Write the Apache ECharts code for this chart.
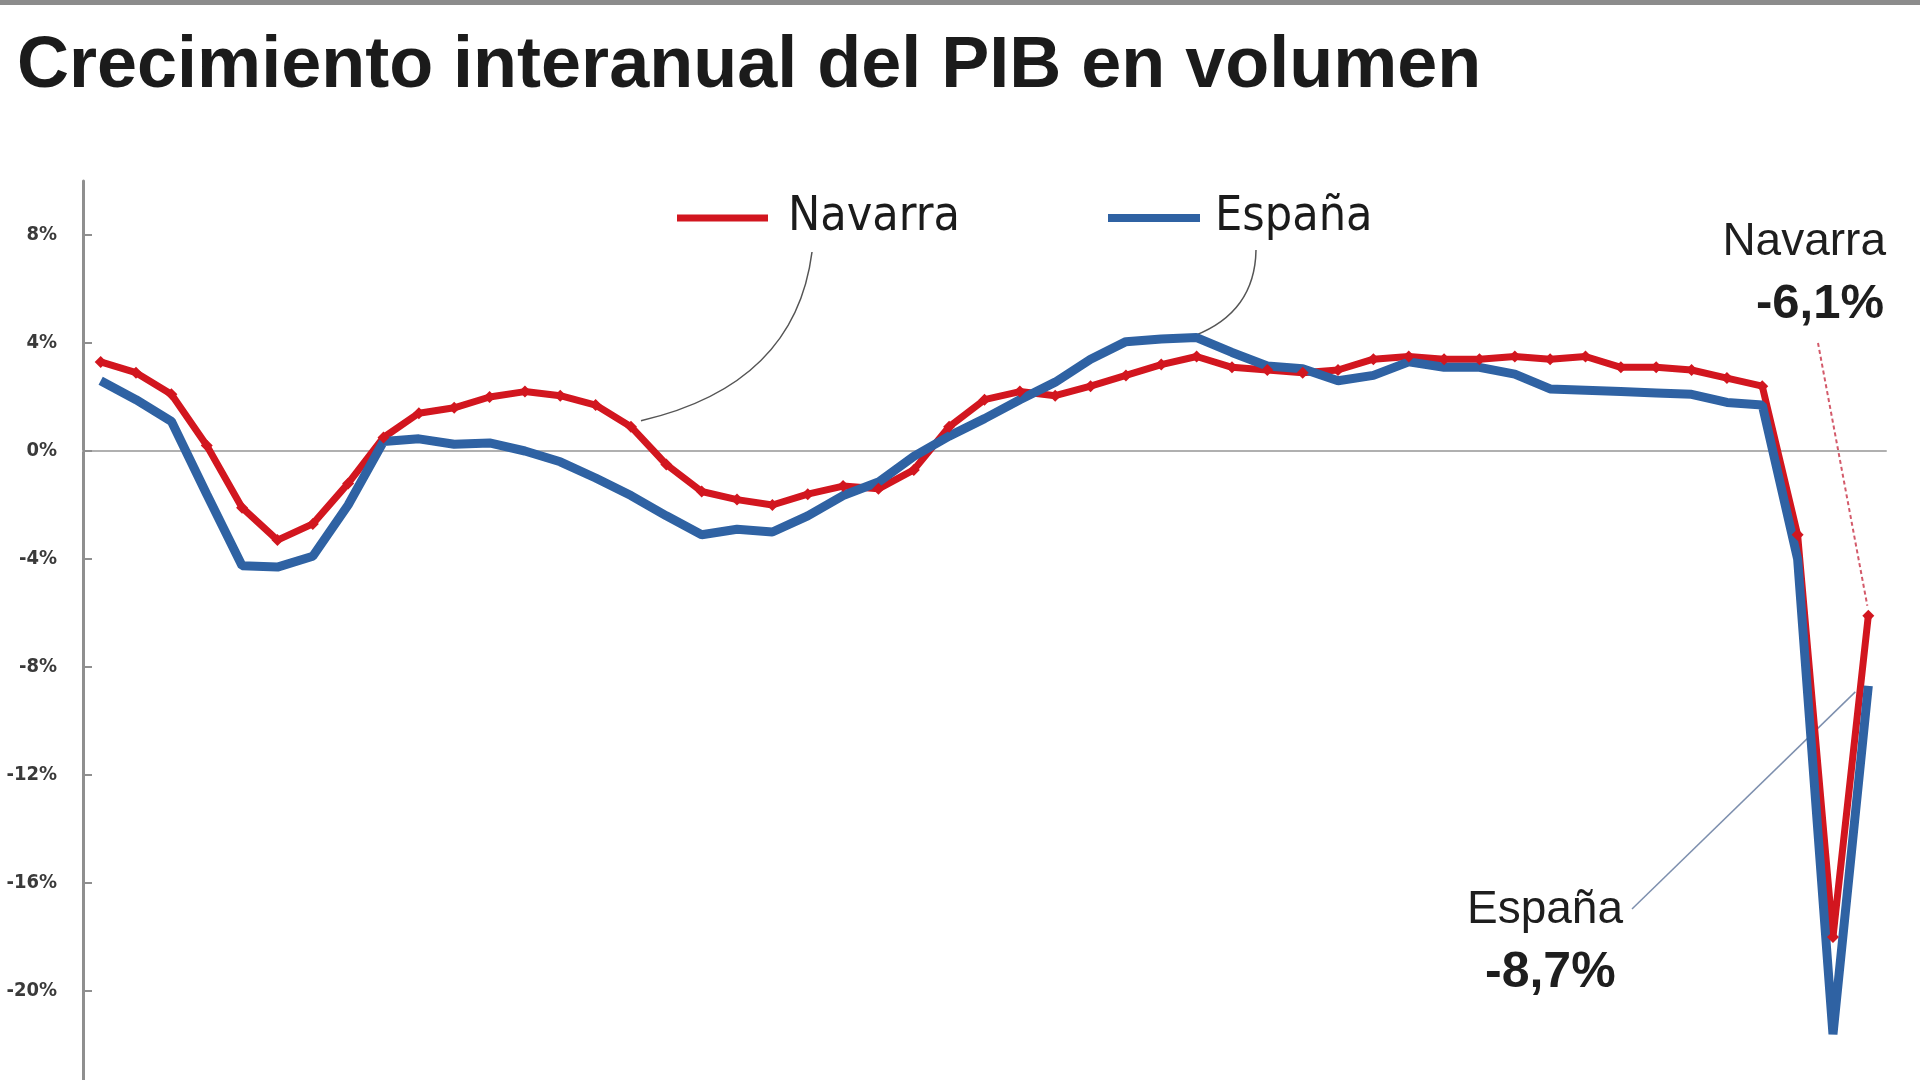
<!DOCTYPE html>
<html>
<head>
<meta charset="utf-8">
<script src="https://cdn.jsdelivr.net/npm/echarts@6/dist/echarts.min.js"></script>
<style>
html,body{margin:0;padding:0;background:#fff;}
#chart{width:1920px;height:1080px;}
</style>
</head>
<body>
<div id="chart"></div>
<script>
// ---- data (quarterly, 2008 Q1 .. 2020 Q3) ----
const categories = [
  '2008T1','2008T2','2008T3','2008T4','2009T1','2009T2','2009T3','2009T4',
  '2010T1','2010T2','2010T3','2010T4','2011T1','2011T2','2011T3','2011T4',
  '2012T1','2012T2','2012T3','2012T4','2013T1','2013T2','2013T3','2013T4',
  '2014T1','2014T2','2014T3','2014T4','2015T1','2015T2','2015T3','2015T4',
  '2016T1','2016T2','2016T3','2016T4','2017T1','2017T2','2017T3','2017T4',
  '2018T1','2018T2','2018T3','2018T4','2019T1','2019T2','2019T3','2019T4',
  '2020T1','2020T2','2020T3'
];
const navarra = [
  3.3, 2.9, 2.1, 0.2, -2.1, -3.3, -2.7, -1.2,
  0.5, 1.4, 1.6, 2.0, 2.2, 2.05, 1.7, 0.9,
  -0.5, -1.5, -1.8, -2.0, -1.6, -1.3, -1.4, -0.7,
  0.9, 1.9, 2.2, 2.05, 2.4, 2.8, 3.2, 3.5,
  3.1, 3.0, 2.9, 3.0, 3.4, 3.5, 3.4, 3.4,
  3.5, 3.4, 3.5, 3.1, 3.1, 3.0, 2.7, 2.4,
  -3.1, -18.0, -6.1
];
const espana = [
  2.6, 1.9, 1.1, -1.6, -4.25, -4.3, -3.9, -2.0,
  0.35, 0.45, 0.25, 0.3, 0.0, -0.4, -1.0, -1.65,
  -2.4, -3.1, -2.9, -3.0, -2.4, -1.65, -1.15, -0.2,
  0.55, 1.2, 1.9, 2.55, 3.4, 4.05, 4.15, 4.2,
  3.65, 3.15, 3.05, 2.6, 2.8, 3.3, 3.1, 3.1,
  2.85, 2.3, 2.25, 2.2, 2.15, 2.1, 1.8, 1.7,
  -4.0, -21.6, -8.7
];
const yTicks = [-24, -20, -16, -12, -8, -4, 0, 4, 8];

const RED = '#d2161f';
const BLUE = '#2f62a3';
const NARROW = "'DejaVu Sans Condensed', 'Liberation Sans Narrow', sans-serif";

const chart = echarts.init(document.getElementById('chart'), null, {renderer: 'canvas'});

chart.setOption({
  animation: false,
  backgroundColor: '#ffffff',
  title: {
    text: 'Crecimiento interanual del PIB en volumen',
    left: 17, top: 31, padding: 0,
    textStyle: {fontFamily: "'Liberation Sans', Arial, sans-serif", fontWeight: 'bold', fontSize: 72, color: '#1b1b1b'}
  },
  legend: [
    {
      data: [{name: 'Navarra', icon: 'rect'}], left: 677, top: 194, padding: 0,
      itemWidth: 91, itemHeight: 7,
      textStyle: {fontFamily: NARROW, fontSize: 48, color: '#1b1b1b', padding: [0, 0, 0, 15]}
    },
    {
      data: [{name: 'España', icon: 'rect'}], left: 1108, top: 194, padding: 0,
      itemWidth: 92, itemHeight: 8,
      textStyle: {fontFamily: NARROW, fontSize: 48, color: '#1b1b1b', padding: [0, 0, 0, 10]}
    }
  ],
  grid: {left: 83, right: 34, top: 181, bottom: -19, containLabel: false, outerBoundsMode: 'none'},
  xAxis: {
    type: 'category', data: categories, boundaryGap: true,
    axisLine: {onZero: true, lineStyle: {color: '#b0b0b0', width: 2}},
    axisTick: {show: false}, axisLabel: {show: false}, splitLine: {show: false}
  },
  yAxis: {
    type: 'value', min: -24, max: 10, interval: 4,
    axisLine: {show: true, lineStyle: {color: '#8f8f8f', width: 3}},
    axisTick: {show: true, inside: true, length: 9, customValues: yTicks, lineStyle: {color: '#8f8f8f', width: 2}},
    axisLabel: {
      customValues: yTicks, margin: 26, fontFamily: NARROW, fontWeight: 'bold', fontSize: 20, color: '#3a3a3a',
      formatter: v => v + '%'
    },
    splitLine: {show: false}
  },
  series: [
    {
      name: 'Navarra', type: 'line', data: navarra,
      symbol: 'diamond', symbolSize: 12, showSymbol: true,
      lineStyle: {color: RED, width: 7}, itemStyle: {color: RED}
    },
    {
      name: 'España', type: 'line', data: espana,
      symbol: 'none', showSymbol: false,
      lineStyle: {color: BLUE, width: 9}, itemStyle: {color: BLUE}
    }
  ]
});

// ---- annotations positioned from the data through the chart's own scales ----
const px = (i, v) => chart.convertToPixel({gridIndex: 0}, [i, v]);
const nEnd = px(50, navarra[50]);
const eEnd = px(50, espana[50]);
const n15 = px(15, navarra[15]);
const e31 = px(31, espana[31]);

const annFont = "'Liberation Sans', Arial, sans-serif";
chart.setOption({
  graphic: [
    {type: 'rect', shape: {x: 0, y: 0, width: 1920, height: 5}, style: {fill: '#8c8c8c'}, silent: true},
    {type: 'text', x: 1886, y: 242, style: {text: 'Navarra', font: '46px ' + annFont, fill: '#1e1e1e', textAlign: 'right', textVerticalAlign: 'middle'}},
    {type: 'text', x: 1884, y: 304, style: {text: '-6,1%', font: 'bold 49px ' + annFont, fill: '#1e1e1e', textAlign: 'right', textVerticalAlign: 'middle'}},
    {type: 'text', x: 1467, y: 910, style: {text: 'España', font: '46px ' + annFont, fill: '#1e1e1e', textAlign: 'left', textVerticalAlign: 'middle'}},
    {type: 'text', x: 1485, y: 973, style: {text: '-8,7%', font: 'bold 50px ' + annFont, fill: '#1e1e1e', textAlign: 'left', textVerticalAlign: 'middle'}},
    {type: 'line', shape: {x1: 1818, y1: 343, x2: nEnd[0] - 1, y2: nEnd[1] - 10}, style: {stroke: '#d35a6a', lineWidth: 2, lineDash: [4, 3]}},
    {type: 'line', shape: {x1: 1632, y1: 909, x2: eEnd[0] - 13, y2: eEnd[1] + 6}, style: {stroke: '#7d8fae', lineWidth: 1.5}},
    {type: 'bezierCurve', shape: {x1: 812, y1: 252, cpx1: 795, cpy1: 385, x2: n15[0] + 10, y2: n15[1] - 6}, style: {stroke: '#555', lineWidth: 1.5, fill: 'none'}},
    {type: 'bezierCurve', shape: {x1: 1256, y1: 250, cpx1: 1255, cpy1: 312, x2: e31[0] - 2, y2: e31[1] - 2}, style: {stroke: '#555', lineWidth: 1.5, fill: 'none'}}
  ]
});
</script>
</body>
</html>
